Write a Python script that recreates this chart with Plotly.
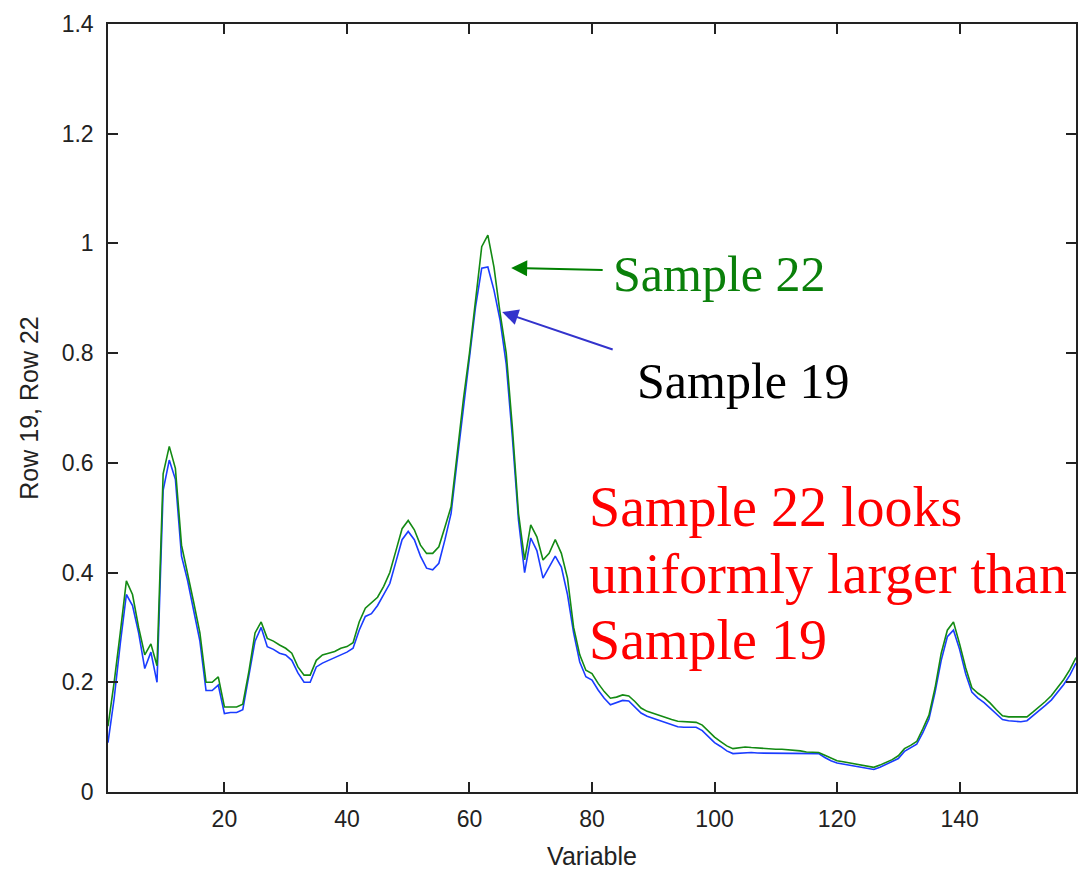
import plotly.graph_objects as go

variables = list(range(1, 160))

sample19 = [
    0.09, 0.17, 0.27, 0.36, 0.34, 0.29, 0.225, 0.255, 0.20, 0.55,
    0.605, 0.57, 0.43, 0.385, 0.33, 0.275, 0.185, 0.185, 0.195, 0.143,
    0.145, 0.145, 0.15, 0.21, 0.275, 0.30, 0.265, 0.26, 0.253, 0.25,
    0.24, 0.217, 0.20, 0.20, 0.228, 0.235, 0.24, 0.246, 0.25, 0.255,
    0.262, 0.295, 0.32, 0.325, 0.34, 0.36, 0.38, 0.42, 0.46, 0.475,
    0.46, 0.43, 0.408, 0.405, 0.417, 0.46, 0.508, 0.605, 0.70, 0.787,
    0.885, 0.955, 0.957, 0.915, 0.86, 0.78, 0.647, 0.496, 0.40, 0.463,
    0.44, 0.39, 0.41, 0.43, 0.41, 0.36, 0.29, 0.237, 0.21, 0.204,
    0.186, 0.171, 0.159, 0.163, 0.167, 0.166, 0.154, 0.144, 0.138, 0.134,
    0.130, 0.127, 0.123, 0.119, 0.118, 0.118, 0.118, 0.112, 0.10, 0.09,
    0.083, 0.075, 0.07, 0.071, 0.072, 0.072, 0.071, 0.071, 0.07, 0.071,
    0.07, 0.071, 0.07, 0.071, 0.07, 0.071, 0.07, 0.063, 0.057, 0.053,
    0.051, 0.048, 0.046, 0.044, 0.042, 0.041, 0.045, 0.05, 0.055, 0.061,
    0.074, 0.08, 0.087, 0.108, 0.133, 0.182, 0.24, 0.283, 0.295, 0.26,
    0.215, 0.182, 0.171, 0.163, 0.153, 0.142, 0.132, 0.13, 0.129, 0.128,
    0.13, 0.139, 0.148, 0.158, 0.168, 0.182, 0.196, 0.213, 0.235,
]

sample22 = [
    0.12, 0.20, 0.29, 0.385, 0.36, 0.30, 0.25, 0.27, 0.23, 0.58,
    0.63, 0.59, 0.45, 0.40, 0.345, 0.29, 0.20, 0.20, 0.21, 0.155,
    0.155, 0.155, 0.16, 0.22, 0.29, 0.31, 0.28, 0.275, 0.268, 0.262,
    0.253, 0.228, 0.213, 0.213, 0.24, 0.25, 0.253, 0.256, 0.262, 0.265,
    0.272, 0.31, 0.335, 0.345, 0.355, 0.375, 0.40, 0.44, 0.48, 0.495,
    0.478, 0.45, 0.435, 0.435, 0.447, 0.483, 0.52, 0.617, 0.715, 0.80,
    0.897, 0.994, 1.015, 0.957, 0.873, 0.80, 0.665, 0.508, 0.423, 0.487,
    0.465, 0.423, 0.435, 0.46, 0.435, 0.39, 0.30, 0.25, 0.222, 0.216,
    0.198, 0.183, 0.171, 0.173, 0.177, 0.175, 0.165, 0.153, 0.147, 0.143,
    0.139, 0.136, 0.132, 0.129, 0.128, 0.128, 0.127, 0.122, 0.11, 0.10,
    0.092, 0.084, 0.079, 0.08, 0.082, 0.081, 0.08, 0.079, 0.079, 0.078,
    0.078, 0.077, 0.077, 0.075, 0.073, 0.073, 0.072, 0.067, 0.062, 0.057,
    0.055, 0.053, 0.051, 0.049, 0.046, 0.045, 0.049, 0.054, 0.059, 0.066,
    0.079, 0.085, 0.092, 0.115, 0.14, 0.19, 0.253, 0.295, 0.31, 0.27,
    0.226, 0.19, 0.18, 0.172, 0.162, 0.15, 0.139, 0.137, 0.137, 0.136,
    0.137, 0.146, 0.155, 0.165, 0.176, 0.19, 0.205, 0.223, 0.245,
]

x_ticks = [20, 40, 60, 80, 100, 120, 140, 160]
y_ticks = [0, 0.2, 0.4, 0.6, 0.8, 1.0, 1.2, 1.4]
y_tick_labels = ["0", "0.2", "0.4", "0.6", "0.8", "1", "1.2", "1.4"]

W, H = 1078, 870
ML, MR, MT, MB = 108, 0, 24, 78
X_RANGE = [1, 159]
Y_RANGE = [0, 1.4]
plot_w = W - ML - MR
plot_h = H - MT - MB


def px_to_data(px, py):
    x = X_RANGE[0] + (px - ML) / plot_w * (X_RANGE[1] - X_RANGE[0])
    y = Y_RANGE[0] + (MT + plot_h - py) / plot_h * (Y_RANGE[1] - Y_RANGE[0])
    return x, y


fig = go.Figure()
fig.add_trace(go.Scatter(x=variables, y=sample19, mode="lines",
                         line=dict(color="#1a3cff", width=1.6), name="Row 19"))
fig.add_trace(go.Scatter(x=variables, y=sample22, mode="lines",
                         line=dict(color="#138a13", width=1.6), name="Row 22"))

serif = "Liberation Serif, Times New Roman, serif"

# arrows
gx, gy = px_to_data(512, 268)
fig.add_annotation(x=gx, y=gy, xref="x", yref="y", text="", showarrow=True,
                   ax=93, ay=2, arrowhead=2, arrowsize=1.6, arrowwidth=2,
                   arrowcolor="#008000", standoff=0)
bx, by = px_to_data(503, 312)
fig.add_annotation(x=bx, y=by, xref="x", yref="y", text="", showarrow=True,
                   ax=112, ay=38, arrowhead=2, arrowsize=1.6, arrowwidth=2,
                   arrowcolor="#3333cc", standoff=0)

texts = [
    ("Sample 22", 612, 274, "#0a800a", 50),
    ("Sample 19", 636, 381, "#000000", 50),
    ("Sample 22 looks", 588, 507, "#ff0000", 56),
    ("uniformly larger than", 588, 574, "#ff0000", 56),
    ("Sample 19", 588, 640, "#ff0000", 56),
]
for t, px, py, col, size in texts:
    fig.add_annotation(x=(px - ML) / plot_w, y=(H - py - MB) / plot_h,
                       xref="paper", yref="paper",
                       text=t, showarrow=False, xanchor="left", yanchor="middle",
                       font=dict(family=serif, size=size, color=col))

axis_font = dict(family="Liberation Sans, Arial, sans-serif", size=23, color="#222222")
title_font = dict(family="Liberation Sans, Arial, sans-serif", size=25, color="#222222")
fig.update_layout(
    width=W, height=H,
    margin=dict(l=ML, r=MR, t=MT, b=MB),
    paper_bgcolor="white", plot_bgcolor="white",
    showlegend=False,
    xaxis=dict(range=X_RANGE, tickvals=x_ticks, ticks="inside", ticklen=10,
               tickwidth=1.5, tickcolor="#222222",
               showline=True, linecolor="#222222", linewidth=1.5, mirror="ticks",
               showgrid=False, zeroline=False, tickfont=axis_font,
               ticklabelstandoff=6,
               title=dict(text="Variable", font=title_font, standoff=16)),
    yaxis=dict(range=Y_RANGE, tickvals=y_ticks, ticktext=y_tick_labels, ticks="inside",
               ticklen=10, tickwidth=1.5, tickcolor="#222222",
               showline=True, linecolor="#222222", linewidth=1.5, mirror="ticks",
               showgrid=False, zeroline=False, tickfont=axis_font,
               ticklabelstandoff=8,
               title=dict(text="Row 19, Row 22", font=title_font, standoff=16)),
)

fig.write_html("out.html")
